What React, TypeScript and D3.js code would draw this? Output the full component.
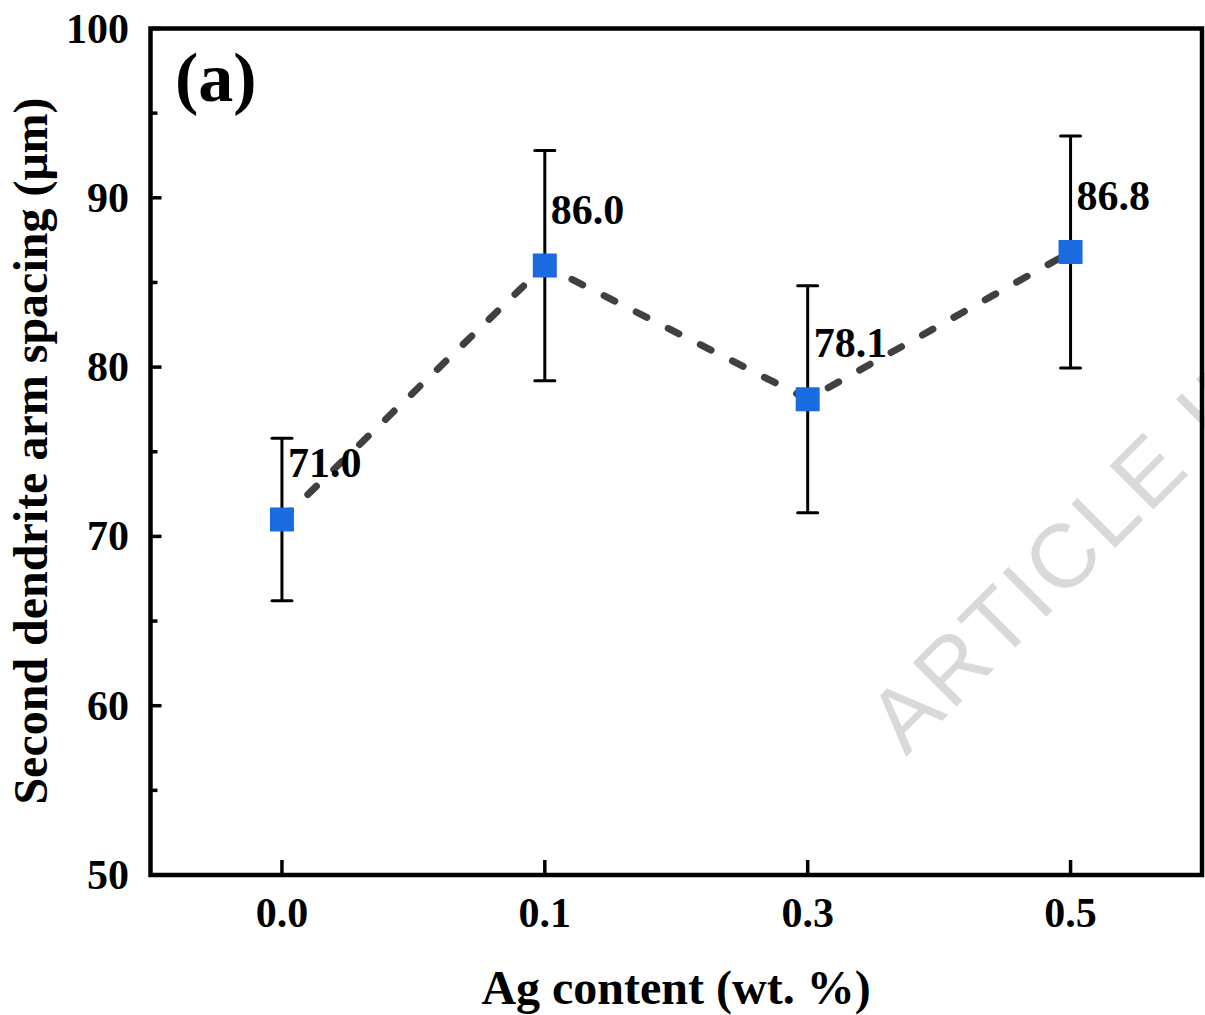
import React from "react";
import * as d3 from "d3";

// Ag content levels (categorical x axis)
const categories = ["0.0", "0.1", "0.3", "0.5"];
// Secondary dendrite arm spacing, mean values (μm)
const spacing = [71.0, 86.0, 78.1, 86.8];
// Standard deviation for each level (μm)
const spacingErr = [4.8, 6.8, 6.7, 6.85];
// Axis ticks
const yMajorTicks = [50, 60, 70, 80, 90, 100];
const yMinorTicks = [55, 65, 75, 85, 95];

const W = 1205;
const H = 1015;
const plot = { left: 150.5, right: 1202, top: 28.5, bottom: 875 };

const SERIF = "'Liberation Serif', 'Times New Roman', Times, serif";
const SANS = "'Liberation Sans', Arial, Helvetica, sans-serif";

export default function App() {
  const x = d3
    .scalePoint<string>()
    .domain(categories)
    .range([plot.left, plot.right])
    .padding(0.5);
  const y = d3.scaleLinear().domain([50, 100]).range([plot.bottom, plot.top]);

  const points = categories.map((c, i) => ({
    cx: x(c) as number,
    v: spacing[i],
    e: spacingErr[i],
  }));

  const line = d3
    .line<{ cx: number; v: number }>()
    .x((d) => d.cx)
    .y((d) => y(d.v));

  const axisW = 4.5;
  const marker = 24;
  const capHalf = 10;

  return (
    <svg
      width={W}
      height={H}
      viewBox={`0 0 ${W} ${H}`}
      style={{ position: "absolute", left: 0, top: 0, background: "#fff" }}
    >
      <rect x={0} y={0} width={W} height={H} fill="#fff" />

      {/* watermark */}
      <text
        transform="translate(906,757) rotate(-45)"
        fontFamily={SANS}
        fontSize={90}
        letterSpacing={4}
        fill="#d9d9d9"
      >
        ARTICLE IN PRESS
      </text>

      {/* dashed connecting line */}
      <path
        d={line(points) || ""}
        fill="none"
        stroke="#404040"
        strokeWidth={7}
        strokeDasharray="12 24"
        strokeLinecap="round"
      />

      {/* error bars */}
      {points.map((p, i) => (
        <g key={`err-${i}`} stroke="#000" strokeWidth={3}>
          <line x1={p.cx} x2={p.cx} y1={y(p.v + p.e)} y2={y(p.v - p.e)} />
          <line
            x1={p.cx - capHalf}
            x2={p.cx + capHalf}
            y1={y(p.v + p.e)}
            y2={y(p.v + p.e)}
            strokeLinecap="round"
          />
          <line
            x1={p.cx - capHalf}
            x2={p.cx + capHalf}
            y1={y(p.v - p.e)}
            y2={y(p.v - p.e)}
            strokeLinecap="round"
          />
        </g>
      ))}

      {/* square markers */}
      {points.map((p, i) => (
        <rect
          key={`m-${i}`}
          x={p.cx - marker / 2}
          y={y(p.v) - marker / 2}
          width={marker}
          height={marker}
          fill="#1a6be0"
        />
      ))}

      {/* value labels */}
      {points.map((p, i) => (
        <text
          key={`lbl-${i}`}
          x={p.cx + 6}
          y={y(p.v) - 42}
          fontFamily={SERIF}
          fontWeight="bold"
          fontSize={42}
          fill="#000"
        >
          {p.v.toFixed(1)}
        </text>
      ))}

      {/* frame */}
      <rect
        x={plot.left}
        y={plot.top}
        width={plot.right - plot.left}
        height={plot.bottom - plot.top}
        fill="none"
        stroke="#000"
        strokeWidth={axisW}
        strokeLinejoin="miter"
      />

      {/* y ticks (inward) */}
      {yMajorTicks.map((t) => (
        <line
          key={`ymj-${t}`}
          x1={plot.left}
          x2={plot.left + 11}
          y1={y(t)}
          y2={y(t)}
          stroke="#000"
          strokeWidth={3.5}
        />
      ))}
      {yMinorTicks.map((t) => (
        <line
          key={`ymn-${t}`}
          x1={plot.left}
          x2={plot.left + 7}
          y1={y(t)}
          y2={y(t)}
          stroke="#000"
          strokeWidth={3.5}
        />
      ))}
      {yMajorTicks.map((t) => (
        <text
          key={`yl-${t}`}
          x={129}
          y={y(t) + 14}
          textAnchor="end"
          fontFamily={SERIF}
          fontWeight="bold"
          fontSize={42}
          fill="#000"
        >
          {t}
        </text>
      ))}

      {/* x ticks (inward) */}
      {categories.map((c) => (
        <line
          key={`xt-${c}`}
          x1={x(c) as number}
          x2={x(c) as number}
          y1={plot.bottom}
          y2={plot.bottom - 15}
          stroke="#000"
          strokeWidth={3.5}
        />
      ))}
      {categories.map((c) => (
        <text
          key={`xl-${c}`}
          x={x(c) as number}
          y={927}
          textAnchor="middle"
          fontFamily={SERIF}
          fontWeight="bold"
          fontSize={42}
          fill="#000"
        >
          {c}
        </text>
      ))}

      {/* axis titles */}
      <text
        x={676}
        y={1004}
        textAnchor="middle"
        fontFamily={SERIF}
        fontWeight="bold"
        fontSize={48}
        fill="#000"
      >
        Ag content (wt. %)
      </text>
      <text
        transform="translate(47,451) rotate(-90)"
        textAnchor="middle"
        fontFamily={SERIF}
        fontWeight="bold"
        fontSize={48}
        fill="#000"
      >
        Second dendrite arm spacing (μm)
      </text>

      {/* panel label */}
      <text
        x={175}
        y={101}
        fontFamily={SERIF}
        fontWeight="bold"
        fontSize={70}
        fill="#000"
      >
        (a)
      </text>
    </svg>
  );
}
